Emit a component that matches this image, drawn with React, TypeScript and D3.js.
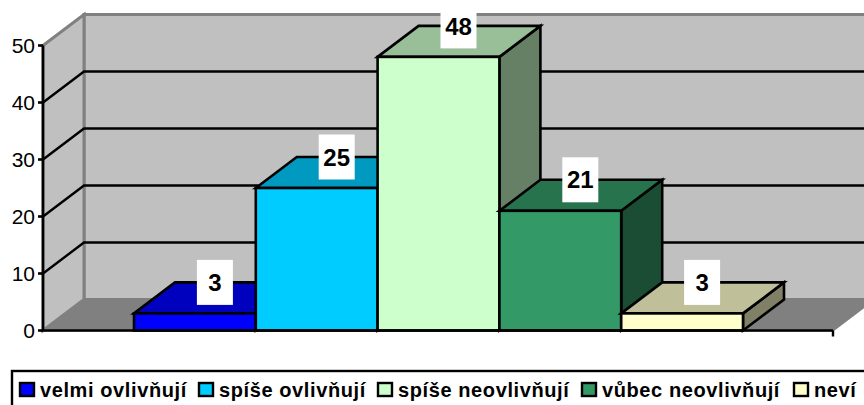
import React from "react";
import * as d3 from "d3";

const categories = ["velmi ovlivňují", "spíše ovlivňují", "spíše neovlivňují", "vůbec neovlivňují", "neví"];
const values = [3, 25, 48, 21, 3];
const colors = ["#0000FF", "#00CCFF", "#CCFFCC", "#339966", "#FFFFCC"];
const yTicks = [0, 10, 20, 30, 40, 50];
const legendX = [20, 199, 378, 582, 794];

const W = 864, H = 405;
const DX = 41, DY = -31;
const FONT = "'Liberation Sans', Arial, sans-serif";

const y = d3.scaleLinear().domain([0, 50]).range([330.5, 45.5]);
const x = d3.scaleBand<string>().domain(categories).range([134, 743]).padding(0);
const X0 = 43, X1 = 833;

const poly = (pts: [number, number][]) => (d3.line()(pts) as string) + "Z";

export default function App() {
  const y0 = y(0), yT = y(50);
  return (
    <svg width={W} height={H} viewBox={`0 0 ${W} ${H}`} style={{ position: "absolute", left: 0, top: 0, background: "#fff" }}>
      {/* walls */}
      <path d={poly([[X0 + DX, yT + DY], [X1 + DX + 20, yT + DY], [X1 + DX + 20, y0 + DY], [X0 + DX, y0 + DY]])} fill="#C0C0C0" stroke="#808080" strokeWidth={3} />
      <path d={poly([[X0, yT], [X0 + DX, yT + DY], [X0 + DX, y0 + DY], [X0, y0]])} fill="#C0C0C0" stroke="#808080" strokeWidth={3} />
      <path d={poly([[X0, y0], [X0 + DX, y0 + DY], [X1 + DX, y0 + DY], [X1, y0]])} fill="#808080" stroke="#808080" strokeWidth={2} />
      {/* gridlines */}
      {yTicks.filter((t) => t > 0 && t < 50).map((t) => (
        <path key={t} d={`M${X0},${y(t)}L${X0 + DX},${y(t) + DY}L${W + 5},${y(t) + DY}`} fill="none" stroke="#000" strokeWidth={2.4} />
      ))}
      {/* bars */}
      {categories.map((c, i) => {
        const bx = x(c)!, bw = x.bandwidth(), by = y(values[i]);
        const col = d3.rgb(colors[i]);
        const top = d3.rgb(col.r * 0.75, col.g * 0.75, col.b * 0.75).formatHex();
        const side = d3.rgb(col.r * 0.5, col.g * 0.5, col.b * 0.5).formatHex();
        const s = { stroke: "#000", strokeWidth: 2.6, strokeLinejoin: "miter" as const };
        return (
          <g key={c}>
            <path d={poly([[bx + bw, by], [bx + bw + DX, by + DY], [bx + bw + DX, y0 + DY], [bx + bw, y0]])} fill={side} {...s} />
            <path d={poly([[bx, by], [bx + DX, by + DY], [bx + bw + DX, by + DY], [bx + bw, by]])} fill={top} {...s} />
            <rect x={bx} y={by} width={bw} height={y0 - by} fill={colors[i]} {...s} />
          </g>
        );
      })}
      {/* axes */}
      <path d={`M${X0},${yT}V${y0}H${X1}`} fill="none" stroke="#000" strokeWidth={2.6} />
      <path d={`M${X1},${y0}V${y0 + 6}`} stroke="#000" strokeWidth={2.4} />
      {yTicks.map((t) => (
        <g key={t}>
          <path d={`M${X0 - 5},${y(t)}H${X0}`} stroke="#000" strokeWidth={2.6} />
          <text x={X0 - 8} y={y(t)} dy="0.36em" textAnchor="end" fontFamily={FONT} fontSize={21} fill="#000">{t}</text>
        </g>
      ))}
      {/* value labels */}
      {categories.map((c, i) => {
        const cx = x(c)! + x.bandwidth() / 2 + 20, cy = y(values[i]) + DY;
        const bw = 36, bh = 45;
        return (
          <g key={c}>
            <rect x={cx - bw / 2} y={cy - bh / 2} width={bw} height={bh} fill="#fff" />
            <text x={cx} y={cy} dy="0.36em" textAnchor="middle" fontFamily={FONT} fontSize={24} fontWeight="bold" fill="#000">{values[i]}</text>
          </g>
        );
      })}
      {/* legend */}
      <rect x={12} y={371} width={W + 20} height={60} fill="#fff" stroke="#000" strokeWidth={2.4} />
      {categories.map((c, i) => (
        <g key={c}>
          <rect x={legendX[i]} y={383} width={14} height={13} fill={colors[i]} stroke="#000" strokeWidth={2.4} />
          <text x={legendX[i] + 20} y={396.5} fontFamily={FONT} fontSize={20} letterSpacing={0.6} fontWeight="bold" fill="#000">{c}</text>
        </g>
      ))}
    </svg>
  );
}
